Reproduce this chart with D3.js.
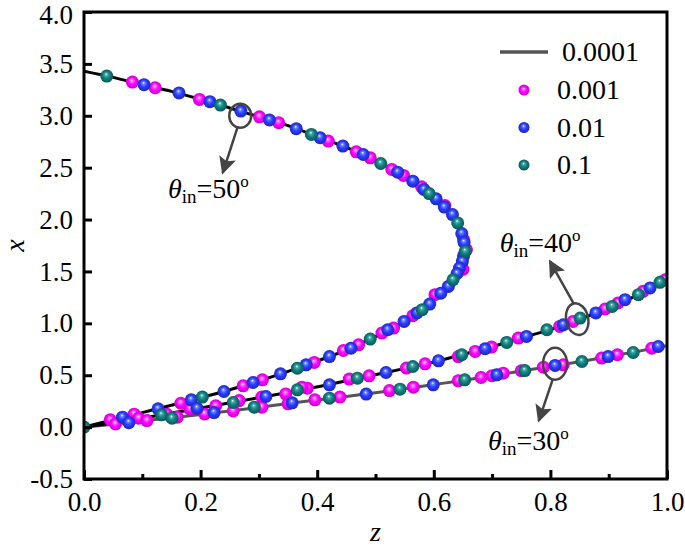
<!DOCTYPE html>
<html>
<head>
<meta charset="utf-8">
<script src="https://cdn.jsdelivr.net/npm/d3@7"></script>
<style>
  body { margin: 0; background: #fff; }
  svg text { font-family: "Liberation Serif", "DejaVu Serif", "Times New Roman", serif; }
</style>
</head>
<body>
<svg id="chart" width="685" height="549"></svg>
<script>
// solid lines (tolerance 0.0001), [z, x]
const line50 = [[0,3.43],[0.05,3.37],[0.1,3.30],[0.15,3.235],[0.2,3.158],[0.25,3.075],[0.3,2.99],[0.35,2.905],[0.4,2.80],[0.45,2.695],[0.5,2.565],[0.54,2.45],[0.58,2.31],[0.61,2.17],[0.63,2.06],[0.645,1.92],[0.653,1.78],[0.654,1.68],[0.648,1.58],[0.637,1.46],[0.625,1.36],[0.612,1.29],[0.6,1.225],[0.58,1.131],[0.55,1.02],[0.52,0.93],[0.49,0.845],[0.45,0.745],[0.42,0.678],[0.38,0.595],[0.34,0.518],[0.3,0.445],[0.25,0.36],[0.2,0.283],[0.15,0.21],[0.1,0.14],[0.05,0.07],[0,0]];
const line40 = [[0,0],[0.1,0.085],[0.2,0.185],[0.3,0.283],[0.37,0.355],[0.42,0.41],[0.47,0.47],[0.52,0.528],[0.56,0.578],[0.6,0.628],[0.65,0.70],[0.7,0.775],[0.75,0.86],[0.8,0.94],[0.85,1.04],[0.9,1.15],[0.95,1.275],[1.0,1.43]];
const line30 = [[0,0],[0.05,0.028],[0.1,0.058],[0.15,0.09],[0.2,0.122],[0.25,0.155],[0.3,0.19],[0.35,0.228],[0.4,0.262],[0.45,0.295],[0.5,0.332],[0.55,0.37],[0.6,0.41],[0.65,0.45],[0.7,0.495],[0.75,0.54],[0.8,0.585],[0.85,0.63],[0.9,0.68],[0.95,0.73],[1.0,0.785]];

// markers, [z, x]
const pts001 = [[0.083,3.325],[0.122,3.27],[0.198,3.158],[0.301,2.99],[0.334,2.933],[0.419,2.756],[0.467,2.653],[0.491,2.595],[0.528,2.483],[0.548,2.425],[0.579,2.316],[0.619,2.135],[0.651,1.807],[0.656,1.71],[0.65,1.52],[0.602,1.276],[0.564,1.073],[0.531,0.954],[0.511,0.906],[0.471,0.793],[0.445,0.738],[0.395,0.623],[0.306,0.456],[0.273,0.398],[0.166,0.23],[0.086,0.125],[0.045,0.07],
  [0.383,0.375],[0.455,0.463],[0.489,0.494],[0.553,0.569],[0.585,0.61],[0.642,0.68],[0.671,0.729],[0.699,0.771],[0.745,0.858],[0.816,0.97],[0.839,1.018],[0.894,1.138],[0.916,1.196],[0.959,1.308],[0.997,1.42],[0.094,0.086],[0.142,0.125],[0.182,0.173],[0.226,0.205],[0.266,0.256],[0.305,0.289],[0.346,0.32],[0.374,0.385],
  [0.054,0.03],[0.108,0.063],[0.16,0.096],[0.207,0.127],[0.256,0.156],[0.305,0.192],[0.35,0.224],[0.396,0.263],[0.439,0.289],[0.524,0.352],[0.565,0.385],[0.642,0.446],[0.681,0.478],[0.70,0.496],[0.719,0.52],[0.75,0.543],[0.788,0.578],[0.822,0.6],[0.888,0.665],[0.915,0.697],[0.974,0.761]];
const pts01 = [[0.103,3.30],[0.163,3.22],[0.216,3.136],[0.269,3.045],[0.318,2.96],[0.364,2.876],[0.405,2.789],[0.444,2.708],[0.479,2.627],[0.538,2.457],[0.564,2.37],[0.583,2.29],[0.604,2.2],[0.618,2.12],[0.632,2.048],[0.648,1.865],[0.652,1.78],[0.651,1.65],[0.649,1.597],[0.644,1.533],[0.64,1.48],[0.625,1.356],[0.612,1.29],[0.593,1.186],[0.571,1.10],[0.549,1.018],[0.521,0.938],[0.458,0.76],[0.421,0.68],[0.381,0.60],[0.337,0.513],[0.29,0.43],[0.24,0.343],[0.184,0.263],[0.127,0.176],[0.066,0.096],
  [0.194,0.182],[0.312,0.295],[0.421,0.407],[0.518,0.526],[0.608,0.639],[0.688,0.755],[0.759,0.874],[0.822,0.986],[0.878,1.10],[0.928,1.228],[0.971,1.341],
  [0.077,0.043],[0.223,0.14],[0.357,0.234],[0.484,0.318],[0.599,0.407],[0.708,0.504],[0.808,0.594],[0.899,0.68],[0.985,0.777]];
const pts1 = [[0,0],[0.039,3.383],[0.234,3.103],[0.39,2.82],[0.509,2.54],[0.592,2.25],[0.641,1.968],[0.654,1.694],[0.633,1.42],[0.58,1.131],[0.491,0.848],[0.366,0.568],[0.203,0.289],
  [0.133,0.118],[0.256,0.237],[0.366,0.359],[0.469,0.472],[0.564,0.584],[0.648,0.697],[0.725,0.816],[0.794,0.938],[0.851,1.051],[0.906,1.163],[0.951,1.276],[0.988,1.395],
  [0.151,0.086],[0.292,0.192],[0.421,0.279],[0.542,0.366],[0.653,0.456],[0.756,0.545],[0.854,0.632],[0.942,0.719]];

const xTicks = [0, 0.2, 0.4, 0.6, 0.8, 1.0];
const xMinor = [0.1, 0.3, 0.5, 0.7, 0.9];
const yTicks = [-0.5, 0, 0.5, 1.0, 1.5, 2.0, 2.5, 3.0, 3.5, 4.0];
const legendNames = ["0.0001", "0.001", "0.01", "0.1"];

// annotations: ellipse centre [z, x], arrow start/tip [z, x], label baseline [z, x]
const notes = [
  {c: [0.268, 3.0], rx: 11, ry: 12, rot: 0, from: [0.264, 2.90], tip: [0.238, 2.45], label: "50", at: [0.144, 2.21]},
  {c: [0.846, 1.04], rx: 11, ry: 16, rot: -12, from: [0.840, 1.19], tip: [0.799, 1.60], label: "40", at: [0.713, 1.69]},
  {c: [0.808, 0.61], rx: 12, ry: 16, rot: 0, from: [0.804, 0.46], tip: [0.780, 0.06], label: "30", at: [0.693, -0.22]}
];

const FONT = '"Liberation Serif", "DejaVu Serif", serif';
const svg = d3.select("#chart");
const W = 685, H = 549;
const m = {left: 84, right: 18, top: 12, bottom: 70};
const x = d3.scaleLinear().domain([0, 1]).range([m.left, W - m.right]);
const y = d3.scaleLinear().domain([-0.5, 4]).range([H - m.bottom, m.top]);
const fmt = d => d3.format(".1f")(d).replace("−", "-");

svg.append("rect").attr("width", W).attr("height", H).attr("fill", "#fff");

// sphere gradients
const defs = svg.append("defs");
const colors = {m: ["#ff66ff", "#ff00ff", "#c000c0"], b: ["#6680ff", "#2a3cff", "#1a22b0"], t: ["#4aa8a8", "#0f8080", "#075050"]};
Object.entries(colors).forEach(([k, c]) => {
  const g = defs.append("radialGradient").attr("id", "g" + k)
    .attr("cx", "0.5").attr("cy", "0.5").attr("r", "0.55").attr("fx", "0.45").attr("fy", "0.35");
  g.append("stop").attr("offset", "0").attr("stop-color", "#fff");
  g.append("stop").attr("offset", "0.2").attr("stop-color", c[0]);
  g.append("stop").attr("offset", "0.5").attr("stop-color", c[1]);
  g.append("stop").attr("offset", "1").attr("stop-color", c[2]);
});
defs.append("clipPath").attr("id", "clip").append("rect")
  .attr("x", m.left).attr("y", m.top).attr("width", W - m.left - m.right).attr("height", H - m.top - m.bottom);
defs.append("marker").attr("id", "arrow").attr("viewBox", "0 0 10 10")
  .attr("refX", 9).attr("refY", 5).attr("markerWidth", 7).attr("markerHeight", 7)
  .attr("markerUnits", "strokeWidth").attr("orient", "auto")
  .append("path").attr("d", "M0,0 L10,5 L0,10 L2,5 Z").attr("fill", "#444");

const plot = svg.append("g").attr("clip-path", "url(#clip)");
const line = d3.line().x(d => x(d[0])).y(d => y(d[1])).curve(d3.curveCatmullRom);

plot.append("path").datum(line30).attr("d", line).attr("fill", "none").attr("stroke", "#555").attr("stroke-width", 3);
plot.append("path").datum(line40).attr("d", line).attr("fill", "none").attr("stroke", "#000").attr("stroke-width", 3);
plot.append("path").datum(line50).attr("d", line).attr("fill", "none").attr("stroke", "#000").attr("stroke-width", 3);

[[pts001, "m"], [pts01, "b"], [pts1, "t"]].forEach(([pts, k]) => {
  plot.selectAll(".p" + k).data(pts).enter().append("circle")
    .attr("cx", d => x(d[0])).attr("cy", d => y(d[1])).attr("r", 6.5)
    .attr("fill", "url(#g" + k + ")");
});

// annotations
notes.forEach(n => {
  svg.append("ellipse").attr("cx", x(n.c[0])).attr("cy", y(n.c[1]))
    .attr("rx", n.rx).attr("ry", n.ry)
    .attr("transform", `rotate(${n.rot},${x(n.c[0])},${y(n.c[1])})`)
    .attr("fill", "none").attr("stroke", "#444").attr("stroke-width", 2.5);
  svg.append("line").attr("x1", x(n.from[0])).attr("y1", y(n.from[1]))
    .attr("x2", x(n.tip[0])).attr("y2", y(n.tip[1]))
    .attr("stroke", "#444").attr("stroke-width", 2.5).attr("marker-end", "url(#arrow)");
  const t = svg.append("text").attr("x", x(n.at[0])).attr("y", y(n.at[1]))
    .attr("font-size", 28).attr("font-family", FONT);
  t.append("tspan").attr("font-style", "italic").text("θ");
  t.append("tspan").attr("font-size", 19).attr("dy", 5).text("in");
  t.append("tspan").attr("dy", -5).text("=" + n.label);
  t.append("tspan").attr("font-size", 17).attr("dy", -11).text("o");
});

// axes
svg.append("g").attr("transform", `translate(0,${H - m.bottom})`)
  .call(d3.axisBottom(x).tickValues(xTicks).tickFormat(fmt).tickSize(-9).tickPadding(13));
svg.append("g").attr("transform", `translate(0,${H - m.bottom})`)
  .call(d3.axisBottom(x).tickValues(xMinor).tickFormat("").tickSize(-5));
const axL = svg.append("g").attr("transform", `translate(${m.left},0)`)
  .call(d3.axisLeft(y).tickValues(yTicks).tickFormat(fmt).tickSize(-8).tickPadding(11));
svg.selectAll(".domain").remove();
svg.selectAll(".tick line").attr("stroke", "#000").attr("stroke-width", 3);
svg.selectAll(".tick text").attr("font-size", 27).attr("fill", "#000").attr("font-family", FONT);
// keep the top label inside the page
axL.selectAll(".tick text").filter(d => d === 4).attr("dy", "0.42em");

svg.append("rect").attr("x", m.left).attr("y", m.top)
  .attr("width", W - m.left - m.right).attr("height", H - m.top - m.bottom)
  .attr("fill", "none").attr("stroke", "#000").attr("stroke-width", 3);

svg.append("text").attr("x", (m.left + W - m.right) / 2).attr("y", 541)
  .attr("text-anchor", "middle").attr("font-size", 28).attr("font-family", FONT)
  .attr("font-style", "italic").text("z");
svg.append("text").attr("transform", `translate(24,${(m.top + H - m.bottom) / 2}) rotate(-90)`)
  .attr("text-anchor", "middle").attr("font-size", 28).attr("font-family", FONT)
  .attr("font-style", "italic").text("x");

// legend
const lg = svg.append("g").attr("transform", "translate(500,52)");
lg.append("line").attr("x1", 0).attr("x2", 48).attr("y1", 0).attr("y2", 0).attr("stroke", "#555").attr("stroke-width", 3.5);
["m", "b", "t"].forEach((k, i) => {
  lg.append("circle").attr("cx", 24).attr("cy", 38 + i * 37.5).attr("r", 5.5).attr("fill", "url(#g" + k + ")");
});
legendNames.forEach((s, i) => {
  lg.append("text").attr("x", i === 0 ? 62 : 57).attr("y", 9 + (i === 0 ? 0 : 38 + (i - 1) * 37.5))
    .attr("font-size", 28).attr("font-family", FONT).text(s);
});
</script>
</body>
</html>
